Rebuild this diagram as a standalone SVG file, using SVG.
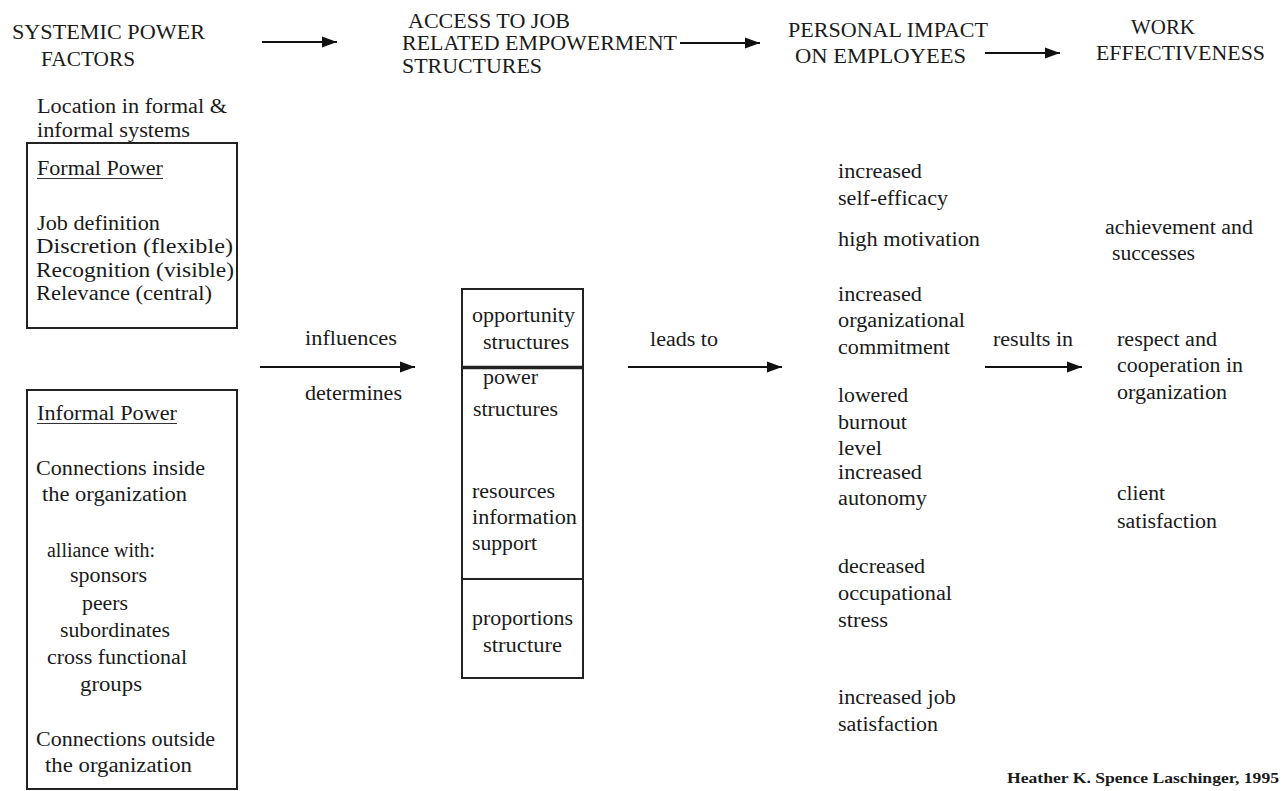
<svg xmlns="http://www.w3.org/2000/svg" width="1282" height="791" viewBox="0 0 1282 791">
<defs>
<style>
text{font-family:"Liberation Serif","Times New Roman",serif;fill:#1a1a1a;font-size:20px}
.h{font-size:20px}
.s{font-size:14.5px;font-weight:bold}
.box{fill:none;stroke:#222;stroke-width:2}
.conn line{stroke:#111;stroke-width:2;marker-end:url(#ah)}
.ul{stroke:#333;stroke-width:1.2}
</style>
<marker id="ah" markerUnits="userSpaceOnUse" markerWidth="16" markerHeight="12" refX="15" refY="6" orient="auto">
<path d="M0,0.5 L15,6 L0,11.5 Z" fill="#111"/>
</marker>
</defs>
<rect width="1282" height="791" fill="#fff"/>

<g id="title-systemic">
<text class="h" x="12" y="39" textLength="193" lengthAdjust="spacingAndGlyphs">SYSTEMIC POWER</text>
<text class="h" x="41" y="66" textLength="94" lengthAdjust="spacingAndGlyphs">FACTORS</text>
</g>
<g id="title-access">
<text class="h" x="408" y="28" textLength="162" lengthAdjust="spacingAndGlyphs">ACCESS TO JOB</text>
<text class="h" x="402" y="50" textLength="275" lengthAdjust="spacingAndGlyphs">RELATED EMPOWERMENT</text>
<text class="h" x="402" y="73" textLength="140" lengthAdjust="spacingAndGlyphs">STRUCTURES</text>
</g>
<g id="title-personal">
<text class="h" x="788" y="37" textLength="200" lengthAdjust="spacingAndGlyphs">PERSONAL IMPACT</text>
<text class="h" x="795" y="63" textLength="171" lengthAdjust="spacingAndGlyphs">ON EMPLOYEES</text>
</g>
<g id="title-work">
<text class="h" x="1131" y="34" textLength="64" lengthAdjust="spacingAndGlyphs">WORK</text>
<text class="h" x="1096" y="60" textLength="169" lengthAdjust="spacingAndGlyphs">EFFECTIVENESS</text>
</g>

<g id="location">
<text x="37" y="113" textLength="190" lengthAdjust="spacingAndGlyphs">Location in formal &amp;</text>
<text x="37" y="137" textLength="153" lengthAdjust="spacingAndGlyphs">informal systems</text>
</g>

<g id="formal-power">
<rect class="box" x="27" y="143" width="210" height="185"/>
<text x="37" y="175" textLength="126" lengthAdjust="spacingAndGlyphs">Formal Power</text>
<line class="ul" x1="37" y1="178.5" x2="163" y2="178.5"/>
<text x="37" y="230" textLength="123" lengthAdjust="spacingAndGlyphs">Job definition</text>
<text x="36" y="253" textLength="197" lengthAdjust="spacingAndGlyphs">Discretion (flexible)</text>
<text x="36" y="277" textLength="198" lengthAdjust="spacingAndGlyphs">Recognition (visible)</text>
<text x="36" y="300" textLength="176" lengthAdjust="spacingAndGlyphs">Relevance (central)</text>
</g>

<g id="informal-power">
<rect class="box" x="27" y="390" width="210" height="399"/>
<text x="37" y="420" textLength="140" lengthAdjust="spacingAndGlyphs">Informal Power</text>
<line class="ul" x1="37" y1="423.5" x2="177" y2="423.5"/>
<text x="36" y="475" textLength="169" lengthAdjust="spacingAndGlyphs">Connections inside</text>
<text x="42" y="501" textLength="145" lengthAdjust="spacingAndGlyphs">the organization</text>
<text x="47" y="557" textLength="108" lengthAdjust="spacingAndGlyphs">alliance with:</text>
<text x="70" y="582" textLength="77" lengthAdjust="spacingAndGlyphs">sponsors</text>
<text x="82" y="610" textLength="46" lengthAdjust="spacingAndGlyphs">peers</text>
<text x="60" y="637" textLength="110" lengthAdjust="spacingAndGlyphs">subordinates</text>
<text x="47" y="664" textLength="140" lengthAdjust="spacingAndGlyphs">cross functional</text>
<text x="80" y="691" textLength="62" lengthAdjust="spacingAndGlyphs">groups</text>
<text x="36" y="746" textLength="179" lengthAdjust="spacingAndGlyphs">Connections outside</text>
<text x="45" y="772" textLength="147" lengthAdjust="spacingAndGlyphs">the organization</text>
</g>

<g id="structures">
<rect class="box" x="462" y="289" width="121" height="389"/>
<line x1="462" y1="367.5" x2="583" y2="367.5" stroke="#222" stroke-width="3.5"/>
<line x1="462" y1="579" x2="583" y2="579" stroke="#222" stroke-width="2"/>
<text x="472" y="322" textLength="103" lengthAdjust="spacingAndGlyphs">opportunity</text>
<text x="483" y="349" textLength="86" lengthAdjust="spacingAndGlyphs">structures</text>
<text x="483" y="384" textLength="55" lengthAdjust="spacingAndGlyphs">power</text>
<text x="473" y="416" textLength="85" lengthAdjust="spacingAndGlyphs">structures</text>
<text x="472" y="498" textLength="83" lengthAdjust="spacingAndGlyphs">resources</text>
<text x="472" y="524" textLength="105" lengthAdjust="spacingAndGlyphs">information</text>
<text x="472" y="550" textLength="65" lengthAdjust="spacingAndGlyphs">support</text>
<text x="472" y="625" textLength="101" lengthAdjust="spacingAndGlyphs">proportions</text>
<text x="483" y="652" textLength="79" lengthAdjust="spacingAndGlyphs">structure</text>
</g>

<g id="personal-impact">
<text x="838" y="178" textLength="84" lengthAdjust="spacingAndGlyphs">increased</text>
<text x="838" y="205" textLength="110" lengthAdjust="spacingAndGlyphs">self-efficacy</text>
<text x="838" y="246" textLength="142" lengthAdjust="spacingAndGlyphs">high motivation</text>
<text x="838" y="301" textLength="84" lengthAdjust="spacingAndGlyphs">increased</text>
<text x="838" y="327" textLength="127" lengthAdjust="spacingAndGlyphs">organizational</text>
<text x="838" y="354" textLength="112" lengthAdjust="spacingAndGlyphs">commitment</text>
<text x="838" y="402" textLength="70" lengthAdjust="spacingAndGlyphs">lowered</text>
<text x="838" y="429" textLength="69" lengthAdjust="spacingAndGlyphs">burnout</text>
<text x="838" y="455" textLength="44" lengthAdjust="spacingAndGlyphs">level</text>
<text x="838" y="479" textLength="84" lengthAdjust="spacingAndGlyphs">increased</text>
<text x="838" y="505" textLength="89" lengthAdjust="spacingAndGlyphs">autonomy</text>
<text x="838" y="573" textLength="87" lengthAdjust="spacingAndGlyphs">decreased</text>
<text x="838" y="600" textLength="114" lengthAdjust="spacingAndGlyphs">occupational</text>
<text x="838" y="627" textLength="50" lengthAdjust="spacingAndGlyphs">stress</text>
<text x="838" y="704" textLength="118" lengthAdjust="spacingAndGlyphs">increased job</text>
<text x="838" y="731" textLength="100" lengthAdjust="spacingAndGlyphs">satisfaction</text>
</g>

<g id="work-effectiveness">
<text x="1105" y="234" textLength="148" lengthAdjust="spacingAndGlyphs">achievement and</text>
<text x="1112" y="260" textLength="83" lengthAdjust="spacingAndGlyphs">successes</text>
<text x="1117" y="346" textLength="100" lengthAdjust="spacingAndGlyphs">respect and</text>
<text x="1117" y="372" textLength="126" lengthAdjust="spacingAndGlyphs">cooperation in</text>
<text x="1117" y="399" textLength="110" lengthAdjust="spacingAndGlyphs">organization</text>
<text x="1117" y="500" textLength="48" lengthAdjust="spacingAndGlyphs">client</text>
<text x="1117" y="528" textLength="100" lengthAdjust="spacingAndGlyphs">satisfaction</text>
</g>

<g class="conn" id="connectors">
<line x1="262" y1="42" x2="337" y2="42"/>
<line x1="680" y1="43" x2="760" y2="43"/>
<line x1="985" y1="53" x2="1060" y2="53"/>
<line x1="260" y1="367" x2="415" y2="367"/>
<line x1="628" y1="367" x2="782" y2="367"/>
<line x1="985" y1="367" x2="1082" y2="367"/>
</g>
<g id="connector-labels">
<text x="305" y="345" textLength="92" lengthAdjust="spacingAndGlyphs">influences</text>
<text x="305" y="400" textLength="97" lengthAdjust="spacingAndGlyphs">determines</text>
<text x="650" y="346" textLength="68" lengthAdjust="spacingAndGlyphs">leads to</text>
<text x="993" y="346" textLength="80" lengthAdjust="spacingAndGlyphs">results in</text>
</g>

<g id="credit">
<text class="s" x="1007" y="783" textLength="272" lengthAdjust="spacingAndGlyphs">Heather K. Spence Laschinger, 1995</text>
</g>
</svg>
